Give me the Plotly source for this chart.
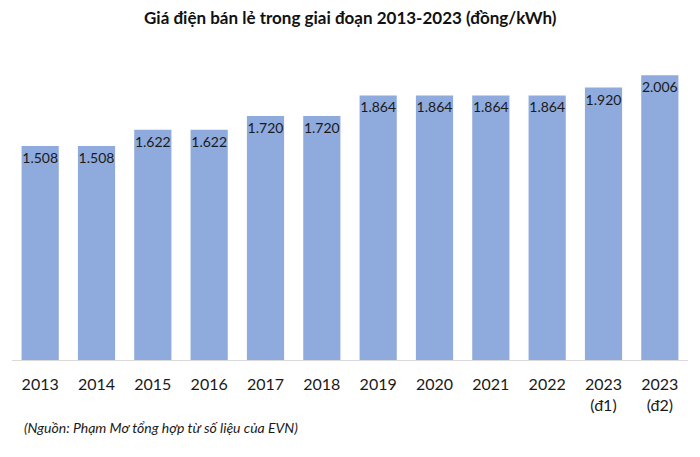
import plotly.graph_objects as go

categories = ["2013", "2014", "2015", "2016", "2017", "2018", "2019", "2020", "2021", "2022", "2023<br>(đ1)", "2023<br>(đ2)"]
values = [1508, 1508, 1622, 1622, 1720, 1720, 1864, 1864, 1864, 1864, 1920, 2006]
labels = ["1.508", "1.508", "1.622", "1.622", "1.720", "1.720", "1.864", "1.864", "1.864", "1.864", "1.920", "2.006"]

FONT = "Lato"

fig = go.Figure(go.Bar(
    x=list(range(len(categories))),
    y=values,
    text=labels,
    textposition="inside",
    insidetextanchor="end",
    textangle=0,
    textfont=dict(family=FONT, size=14, color="#1a1a1a"),
    marker=dict(color="#8FAADC", line=dict(width=0)),
    hoverinfo="skip",
))

fig.update_layout(
    width=700, height=457,
    margin=dict(l=4, r=20, t=54, b=105),
    plot_bgcolor="white", paper_bgcolor="white",
    bargap=0.34,
    showlegend=False,
    title=dict(text="<b>Giá điện bán lẻ trong giai đoạn 2013-2023 (đồng/kWh)</b>",
               x=0.489, xanchor="center", y=0.978, yanchor="middle",
               font=dict(family=FONT, size=17, color="#111111")),
    uniformtext=dict(minsize=13, mode="show"),
)
fig.update_xaxes(
    tickmode="array", tickvals=list(range(len(categories))), ticktext=categories,
    range=[-0.5, len(categories) - 0.5],
    showline=True, linecolor="#d9d9d9", linewidth=1,
    ticks="", ticklabelstandoff=10,
    tickfont=dict(family=FONT, size=16, color="#1a1a1a"),
    showgrid=False, zeroline=False,
)
fig.update_yaxes(range=[0, 2100], visible=False, showgrid=False, zeroline=False)

fig.add_annotation(
    text="<i>(Nguồn: Phạm Mơ tổng hợp từ số liệu của EVN)</i>",
    xref="paper", yref="paper", x=0.0, xanchor="left", y=-0.228, yanchor="middle",
    xshift=10, showarrow=False,
    font=dict(family=FONT, size=14, color="#1a1a1a"),
)

fig.write_html("out.html")
